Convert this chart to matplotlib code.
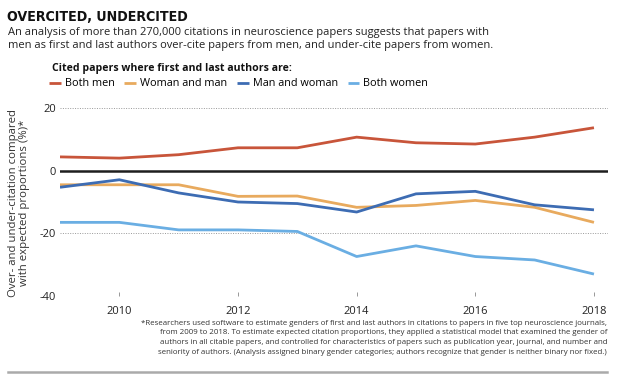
import matplotlib
matplotlib.use('Agg')
import matplotlib.pyplot as plt
from matplotlib.lines import Line2D
from matplotlib import font_manager

years = [2009, 2010, 2011, 2012, 2013, 2014, 2015, 2016, 2017, 2018]
both_men = [4.4, 4.0, 5.1, 7.3, 7.3, 10.7, 8.9, 8.5, 10.7, 13.7]
woman_and_man = [-4.5, -4.5, -4.5, -8.2, -8.1, -11.7, -11.1, -9.5, -11.7, -16.5]
man_and_woman = [-5.3, -2.9, -7.1, -10.0, -10.5, -13.2, -7.4, -6.6, -10.9, -12.5]
both_women = [-16.5, -16.5, -18.9, -18.9, -19.4, -27.4, -24.0, -27.4, -28.5, -33.0]

series = [
    ('Both men', both_men, '#c8553a'),
    ('Woman and man', woman_and_man, '#e8aa5e'),
    ('Man and woman', man_and_woman, '#3d6cb3'),
    ('Both women', both_women, '#6aaee3'),
]
xticks = [2010, 2012, 2014, 2016, 2018]
yticks = [20, 0, -20, -40]

plt.rcParams['font.family'] = ['Open Sans', 'DejaVu Sans']
plt.rcParams['axes.unicode_minus'] = False

# narrow bold face for the headline, whatever is installed
narrow = [f.name for f in font_manager.fontManager.ttflist
          if ('Narrow' in f.name or 'Condensed' in f.name or 'Narrow' in f.fname or 'Condensed' in f.fname)]
title_family = [narrow[0]] if narrow else []
title_family += ['DejaVu Sans']

W, H = 619, 377
fig = plt.figure(figsize=(W / 100, H / 100), dpi=100)

def fx(px):
    return px / W

def fy(py):
    return 1 - py / H

ax = fig.add_axes([fx(60), fy(296), fx(608) - fx(60), fy(108) - fy(296)])

for name, vals, col in series:
    ax.plot(years, vals, color=col, linewidth=2, label=name, solid_capstyle='butt')

ax.axhline(0, color='#1e1e1e', linewidth=1.8, zorder=1)
for v in [20, -20, -40]:
    ax.axhline(v, color='#999999', linewidth=0.7, linestyle=(0, (1, 1.5)), zorder=0)

ax.set_xlim(2009, 2009 + (608 - 60) / 59.33)
ax.set_ylim(-40, 20)
for s in ax.spines.values():
    s.set_visible(False)
ax.set_xticks(xticks)
ax.set_yticks(yticks)
ax.tick_params(axis='x', direction='in', length=3, width=0.6, color='#888888',
               labelsize=8, labelcolor='#222222', pad=7)
ax.tick_params(axis='y', length=0, labelsize=8, labelcolor='#222222', pad=3)

fig.text(fx(19), fy(203), 'Over- and under-citation compared\nwith expected proportions (%)*',
         rotation=90, ha='center', va='center', fontsize=8.2, color='#333333',
         linespacing=1.05)

fig.text(fx(7), fy(21), 'OVERCITED, UNDERCITED', ha='left', va='baseline',
         fontsize=10.2, fontweight='heavy', fontstretch='condensed', color='#111111',
         family=title_family)
fig.text(fx(8), fy(35.5), 'An analysis of more than 270,000 citations in neuroscience papers suggests that papers with',
         ha='left', va='baseline', fontsize=8.05, color='#222222')
fig.text(fx(8), fy(48), 'men as first and last authors over-cite papers from men, and under-cite papers from women.',
         ha='left', va='baseline', fontsize=8.05, color='#222222')
fig.text(fx(52), fy(71.5), 'Cited papers where first and last authors are:', ha='left', va='baseline',
         fontsize=7.6, fontweight='bold', color='#111111')

handles, labels = ax.get_legend_handles_labels()
fig.legend(handles, labels, loc='center left', bbox_to_anchor=(fx(49), fy(84)), ncol=4,
           frameon=False, fontsize=7.8, handlelength=1.1, handletextpad=0.35,
           columnspacing=0.9, borderpad=0, borderaxespad=0)

footnote = ('*Researchers used software to estimate genders of first and last authors in citations to papers in five top neuroscience journals,\n'
            'from 2009 to 2018. To estimate expected citation proportions, they applied a statistical model that examined the gender of\n'
            'authors in all citable papers, and controlled for characteristics of papers such as publication year, journal, and number and\n'
            'seniority of authors. (Analysis assigned binary gender categories; authors recognize that gender is neither binary nor fixed.)')
fig.text(fx(607), fy(320), footnote, ha='right', va='top', multialignment='right',
         fontsize=5.65, color='#333333', linespacing=1.5)

fig.add_artist(Line2D([fx(8), fx(607)], [fy(372), fy(372)], transform=fig.transFigure,
                      color='#aaaaaa', linewidth=1.8))

fig.savefig('out.png', dpi=100)
